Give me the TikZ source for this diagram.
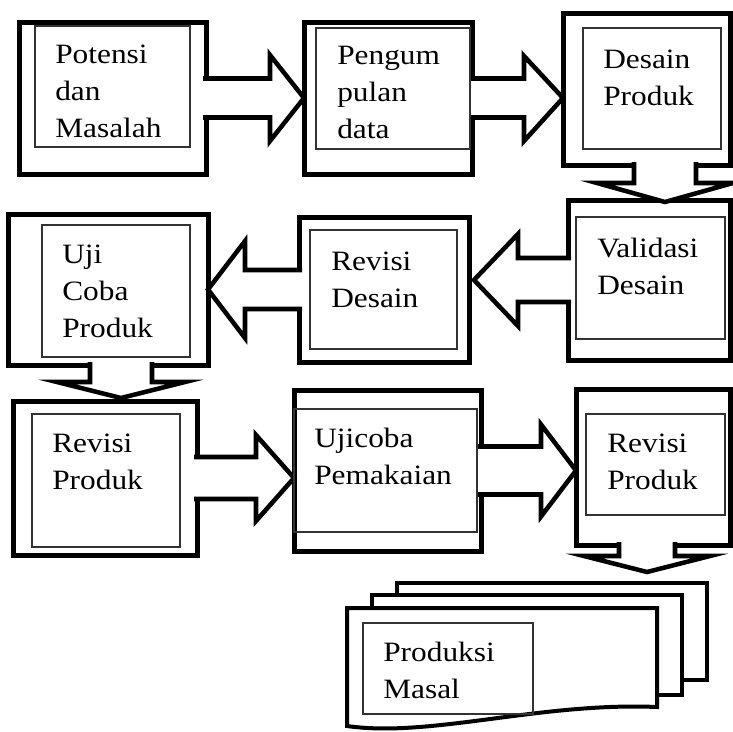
\documentclass[tikz,border=0pt]{standalone}
\usepackage{fontspec}
\setmainfont{Liberation Serif}[FakeStretch=1.12]
\usetikzlibrary{fit,calc}

\begin{document}
\begin{tikzpicture}[x=0.75pt,y=-0.75pt,
    outerbox/.style={draw,line width=3.75pt,fill=white,inner sep=0pt,outer sep=0pt},
    innerbox/.style={draw=black!80,line width=1pt,inner sep=0pt,outer sep=0pt},
    lbl/.style={anchor=base west,inner sep=0pt,align=left,font=\fontsize{21pt}{27.75pt}\selectfont},
    fatarrow/.style={draw,line width=3.4pt,fill=white,miter limit=20},
    sheet/.style={draw,line width=3pt,fill=white}]
    \path[fill=white,use as bounding box] (0,0) rectangle (733,732);

    % outer frames
    \node[outerbox,fit={(19,22) (206,174)}] (potensi) {};
    \node[outerbox,fit={(304,22) (472,174)}] (pengumpulan) {};
    \node[outerbox,fit={(563,13) (730,165)}] (desain) {};
    \node[outerbox,fit={(568,200) (730,360)}] (validasi) {};
    \node[outerbox,fit={(299,217) (469,362)}] (revdesain) {};
    \node[outerbox,fit={(8,214) (208,365)}] (ujicoba) {};
    \node[outerbox,fit={(13,401) (197,555)}] (revproduk) {};
    \node[outerbox,fit={(294,390) (481,551)}] (pemakaian) {};
    \node[outerbox,fit={(576,389) (730,545)}] (revproduk2) {};

    % stacked sheets
    \draw[sheet] (397,583) rectangle (707,680);
    \draw[sheet] (372,595) rectangle (682,695);
    \draw[sheet] (347,608) -- (657,608) -- (657,707)
        .. controls (540,702) and (430,738) .. (347,726) -- cycle;

    % block arrows
    \draw[fatarrow] (potensi.east) ++(-3,-19.5) -- ++(67,0) -- ++(0,-23.5)
        -- (pengumpulan.west) -- ++(-34,43) -- ++(0,-23.5) -- ++(-67,0);
    \draw[fatarrow] (pengumpulan.east) ++(-3,-19.5) -- ++(55,0) -- ++(0,-22.5)
        -- (desain.west |- pengumpulan.east) -- ++(-39,43) -- ++(0,-23.5) -- ++(-55,0);
    \draw[fatarrow] (desain.south) ++(-12.5,-3) -- ++(0,21) -- ++(-37,0)
        -- ++(68,19) -- ++(68,-19) -- ++(-37,0) -- ++(0,-21);
    \draw[fatarrow] (validasi.west) ++(3,-22) -- ++(-53,0) -- ++(0,-24)
        -- ($(revdesain.east |- validasi.west)+(5,0)$) -- ++(44,46) -- ++(0,-24) -- ++(53,0);
    \draw[fatarrow] (revdesain.west) ++(3,-19.5) -- ++(-57,0) -- ++(0,-29)
        -- (ujicoba.east) -- ++(37,48.5) -- ++(0,-29) -- ++(57,0);
    \draw[fatarrow] (ujicoba.south) ++(-18,-3) -- ++(0,20) -- ++(-33,0)
        -- ++(64,16) -- ++(64,-16) -- ++(-33,0) -- ++(0,-20);
    \draw[fatarrow] (revproduk.east) ++(-3,-21) -- ++(62,0) -- ++(0,-22)
        -- (pemakaian.west |- revproduk.east) -- ++(-38,43) -- ++(0,-22) -- ++(-62,0);
    \draw[fatarrow] (pemakaian.east) ++(-3,-24) -- ++(63,0) -- ++(0,-22)
        -- (revproduk2.west |- pemakaian.east) -- ++(-35,46) -- ++(0,-22) -- ++(-63,0);
    \draw[fatarrow] (revproduk2.south) ++(-34,-3) -- ++(0,14) -- ++(-35,0)
        -- ++(63,16) -- ++(63,-16) -- ++(-35,0) -- ++(0,-14);

    % inner frames and texts (placed at the baseline of the last line)
    \node[innerbox,fit={(35,26) (190,147)}] (potensi-in) {};
    \node[lbl] (potensi-t) at (55,137) {Potensi\\dan\\Masalah};
    \node[innerbox,fit={(316,28) (470,149)}] (pengumpulan-in) {};
    \node[lbl] (pengumpulan-t) at (337,138) {Pengum\\pulan\\data};
    \node[innerbox,fit={(583,28) (721,149)}] (desain-in) {};
    \node[lbl] (desain-t) at (603,105) {Desain\\Produk};
    \node[innerbox,fit={(576,217) (725,339)}] (validasi-in) {};
    \node[lbl] (validasi-t) at (597,294) {Validasi\\Desain};
    \node[innerbox,fit={(310,230) (457,349)}] (revdesain-in) {};
    \node[lbl] (revdesain-t) at (331,307) {Revisi\\Desain};
    \node[innerbox,fit={(42,225) (190,357)}] (ujicoba-in) {};
    \node[lbl] (ujicoba-t) at (62,337) {Uji\\Coba\\Produk};
    \node[innerbox,fit={(32,414) (180,547)}] (revproduk-in) {};
    \node[lbl] (revproduk-t) at (52,489) {Revisi\\Produk};
    \node[innerbox,fit={(294,409) (477,532)}] (pemakaian-in) {};
    \node[lbl] (pemakaian-t) at (314,484) {Ujicoba\\Pemakaian};
    \node[innerbox,fit={(586,414) (725,515)}] (revproduk2-in) {};
    \node[lbl] (revproduk2-t) at (607,489) {Revisi\\Produk};
    \node[innerbox,fit={(363,623) (533,714)}] (produksi) {};
    \node[lbl] (produksi-t) at (383,698) {Produksi\\Masal};
\end{tikzpicture}
\end{document}
